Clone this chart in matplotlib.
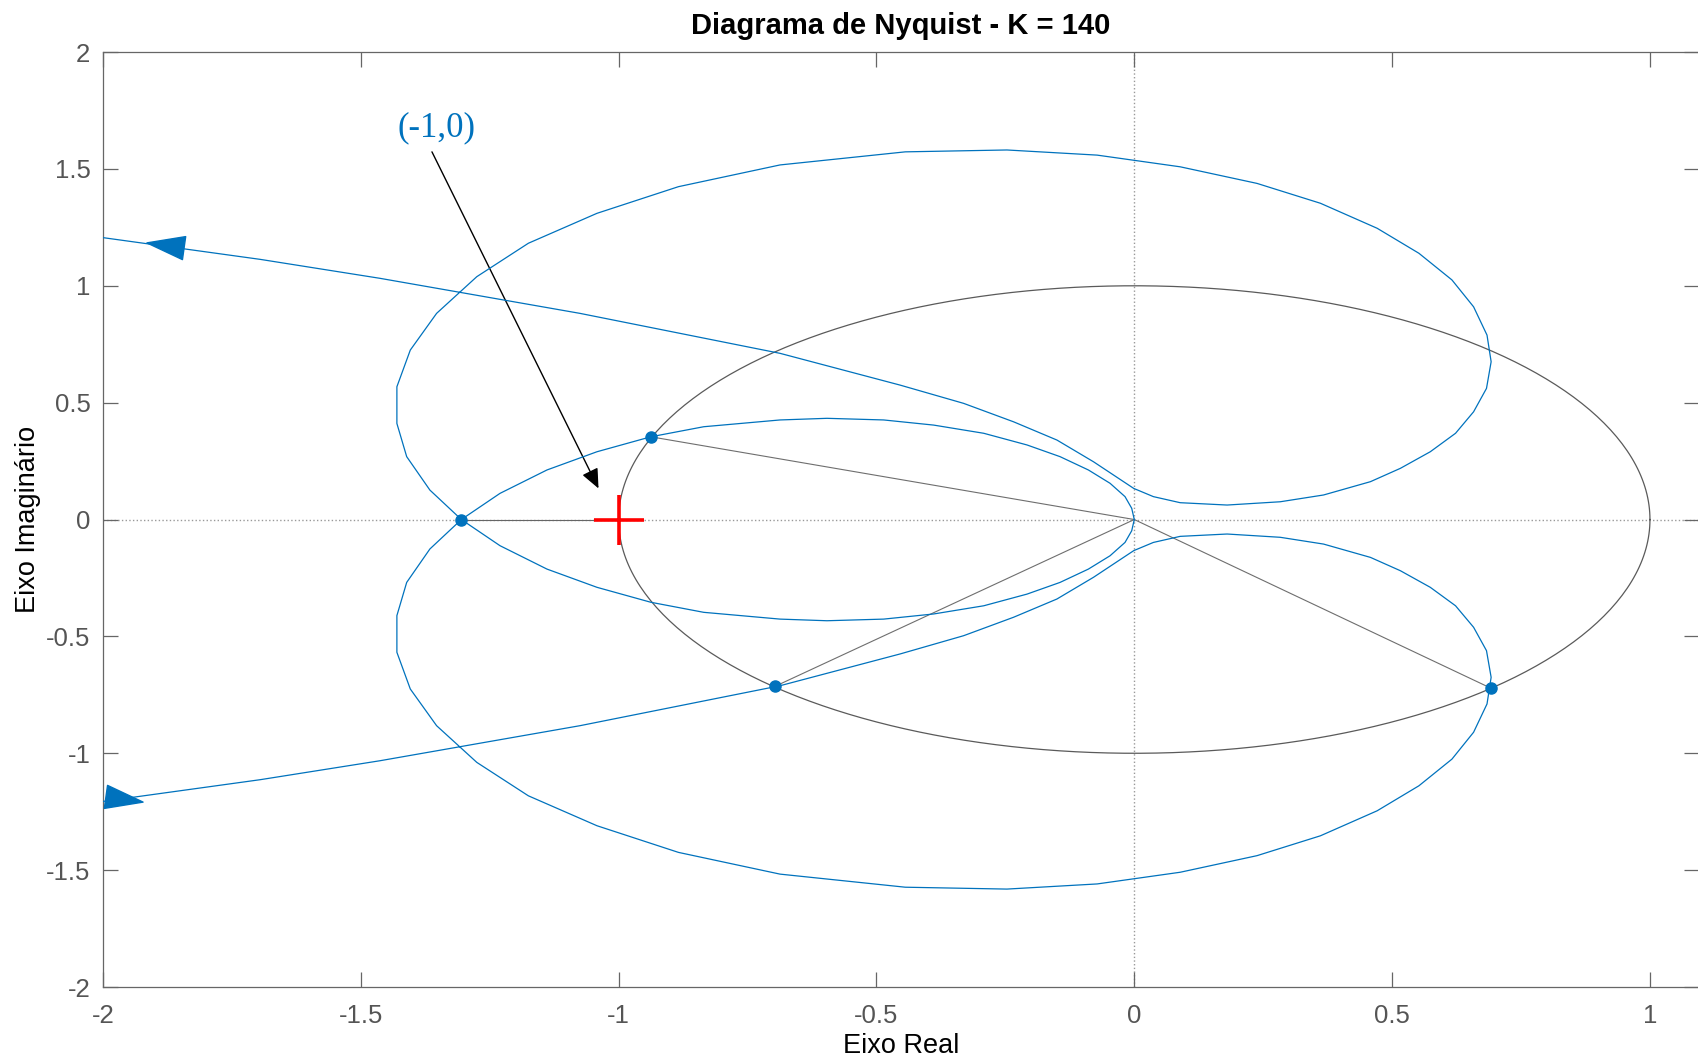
import numpy as np
import matplotlib.pyplot as plt
from matplotlib.markers import MarkerStyle
from matplotlib.path import Path
from matplotlib.transforms import Affine2D

plt.rcParams['font.family'] = ['Liberation Sans', 'DejaVu Sans']
plt.rcParams['axes.unicode_minus'] = False

# G(jw) for w > 0, from the far left down to the origin
branch_re = [-2.20, -2.00, -1.695, -1.463, -1.075, -0.687, -0.454, -0.331, -0.234, -0.150,
             -0.079, -0.040, -0.001, 0.037, 0.089, 0.180, 0.283, 0.367, 0.458, 0.516,
             0.574, 0.623, 0.658, 0.683, 0.692, 0.684, 0.658, 0.616, 0.552, 0.471,
             0.361, 0.238, 0.089, -0.072, -0.247, -0.444, -0.687, -0.884, -1.042, -1.175,
             -1.275, -1.353, -1.404, -1.430, -1.430, -1.411, -1.366, -1.305,
             -1.230, -1.139, -1.042, -0.9375, -0.835, -0.687, -0.596, -0.486, -0.389, -0.292,
             -0.208, -0.144, -0.089, -0.047, -0.018, -0.005, 0.0]
branch_im = [1.265, 1.206, 1.113, 1.032, 0.882, 0.711, 0.575, 0.497, 0.418, 0.340,
             0.247, 0.190, 0.133, 0.098, 0.072, 0.062, 0.076, 0.105, 0.162, 0.219,
             0.290, 0.369, 0.461, 0.561, 0.675, 0.789, 0.910, 1.025, 1.139, 1.246,
             1.353, 1.438, 1.509, 1.559, 1.581, 1.573, 1.517, 1.424, 1.310, 1.182,
             1.039, 0.882, 0.725, 0.568, 0.411, 0.269, 0.126, 0.0,
             -0.112, -0.212, -0.290, -0.354, -0.397, -0.426, -0.433, -0.426, -0.404, -0.369,
             -0.319, -0.269, -0.212, -0.155, -0.098, -0.048, 0.0]

# crossings of the unit circle / real axis
cross_re = [-1.305, -0.9375, -0.697, 0.692]
cross_im = [0.0, 0.354, -0.714, -0.722]

# direction arrows on the two branches
arrow_re = [-1.88, -1.96]
arrow_im = [1.176, -1.196]
arrow_angle = [172.0, -8.0]

critical_pt = (-1.0, 0.0)
label_pos = (-1.354, 1.675)
label_tail = (-1.362, 1.573)
label_tip = (-1.039, 0.133)

blue = '#0072BD'

fig = plt.figure(figsize=(16.99, 10.62), dpi=100)
ax = fig.add_axes([0.0606, 0.0706, 0.9394, 0.8804])

re = np.array(branch_re)
im = np.array(branch_im)
ax.plot(re, im, color=blue, lw=0.9, zorder=4)
ax.plot(re, -im, color=blue, lw=0.9, zorder=4)

# unit circle
t = np.linspace(0, 2 * np.pi, 400)
ax.plot(np.cos(t), np.sin(t), color='#5a5a5a', lw=0.9, zorder=3)

# rays from origin to the crossings
for x, y in zip(cross_re, cross_im):
    if y == 0.0:
        ax.plot([x, critical_pt[0]], [y, 0], color='#666666', lw=0.8, zorder=3)
    else:
        ax.plot([x, 0], [y, 0], color='#6e6e6e', lw=0.8, zorder=3)
ax.plot(cross_re, cross_im, 'o', color=blue, ms=8, zorder=6)

# arrows
tri = Path([(-1, 0), (1, 0.62), (1, -0.62), (-1, 0)],
           [Path.MOVETO, Path.LINETO, Path.LINETO, Path.CLOSEPOLY])
for x, y, ang in zip(arrow_re, arrow_im, arrow_angle):
    m = MarkerStyle(tri, transform=Affine2D().rotate_deg(ang + 180))
    ax.plot(x, y, marker=m, ms=27, color=blue, mec=blue, zorder=6)

ax.plot(*critical_pt, '+', color='red', ms=36, mew=2.6, zorder=7)

ax.text(*label_pos, '(-1,0)', color=blue, fontsize=25, family='Liberation Serif',
        ha='center', va='center')
ax.annotate('', xy=label_tip, xytext=label_tail,
            arrowprops=dict(arrowstyle='-|>,head_length=0.8,head_width=0.35',
                            color='black', lw=1.0, mutation_scale=15,
                            shrinkA=0, shrinkB=0))

ax.axhline(0, color='#999999', lw=1.0, ls=':', zorder=1)
ax.axvline(0, color='#999999', lw=1.0, ls=':', zorder=1)

ax.set_xlim(-2, 1.0951)
ax.set_ylim(-2, 2)
ax.set_xticks(np.arange(-2, 1.01, 0.5))
ax.set_xticklabels(['-2', '-1.5', '-1', '-0.5', '0', '0.5', '1'])
ax.set_yticks(np.arange(-2, 2.01, 0.5))
ax.set_yticklabels(['-2', '-1.5', '-1', '-0.5', '0', '0.5', '1', '1.5', '2'])
ax.tick_params(direction='in', length=11, width=0.9, colors='#666666',
               labelcolor='#555555', labelsize=18.5, top=True, right=True)
ax.tick_params(axis='x', pad=12)
ax.tick_params(axis='y', pad=9)
for s in ax.spines.values():
    s.set_color('#666666')
    s.set_linewidth(0.9)
ax.spines['right'].set_visible(False)

ax.set_title('Diagrama de Nyquist - K = 140', fontsize=21, fontweight='bold', pad=13)
ax.set_xlabel('Eixo Real', fontsize=19.5, labelpad=4)
ax.set_ylabel('Eixo Imaginário', fontsize=19.5, labelpad=4)

fig.savefig('out.png', dpi=100)
